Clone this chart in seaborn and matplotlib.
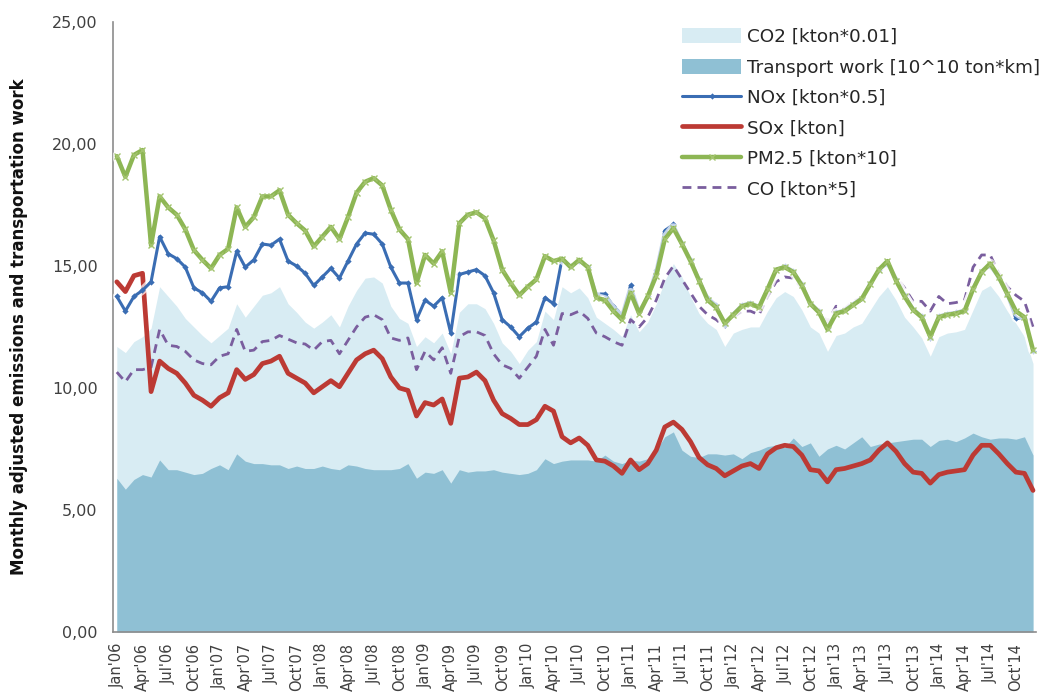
import numpy as np
import pandas as pd
import matplotlib
matplotlib.use("Agg")
import matplotlib.pyplot as plt
from matplotlib.patches import Patch
from matplotlib.lines import Line2D
import seaborn as sns

# Monthly series, Jan 2006 - Dec 2014
months = pd.date_range("2006-01-01", "2014-12-01", freq="MS")

co2 = [  # CO2 [kton*0.01]
    11.7, 11.45, 11.9, 12.1, 12.45, 14.15, 13.75, 13.35, 12.85, 12.5, 12.15, 11.85,
    12.15, 12.45, 13.45, 12.9, 13.35, 13.8, 13.9, 14.15, 13.45, 13.1, 12.7, 12.45,
    12.7, 13.0, 12.5, 13.35, 14.0, 14.5, 14.55, 14.3, 13.35, 12.85, 12.65, 11.7,
    12.1, 11.85, 12.25, 11.4, 13.1, 13.45, 13.45, 13.25, 12.65, 11.85, 11.5, 11.0,
    11.55, 11.9, 13.15, 12.8, 14.15, 13.9, 14.1, 13.7, 12.9, 12.65, 12.4, 12.1,
    13.0, 12.3, 12.7, 13.45, 14.4, 15.1, 14.55, 13.75, 13.05, 12.65, 12.4, 11.7,
    12.25, 12.4, 12.5, 12.5, 13.15, 13.7, 13.95, 13.75, 13.2, 12.5, 12.25, 11.5,
    12.15, 12.25, 12.5, 12.65, 13.2, 13.75, 14.15, 13.6, 12.9, 12.5, 12.05, 11.3,
    12.1, 12.25, 12.3, 12.4, 13.2, 14.0, 14.2, 13.75, 13.15, 12.65, 12.1, 11.0,
]

transport = [  # Transport work [10^10 ton*km]
    6.3, 5.85, 6.25, 6.45, 6.35, 7.05, 6.65, 6.65, 6.55, 6.45, 6.5, 6.7,
    6.85, 6.65, 7.3, 7.0, 6.9, 6.9, 6.85, 6.85, 6.7, 6.8, 6.7, 6.7,
    6.8, 6.7, 6.65, 6.85, 6.8, 6.7, 6.65, 6.65, 6.65, 6.7, 6.9, 6.3,
    6.55, 6.5, 6.65, 6.1, 6.65, 6.55, 6.6, 6.6, 6.65, 6.55, 6.5, 6.45,
    6.5, 6.65, 7.1, 6.9, 7.0, 7.05, 7.05, 7.05, 7.0, 7.25, 7.0, 6.9,
    7.05, 7.0, 7.1, 7.45, 8.0, 8.2, 7.45, 7.2, 7.15, 7.3, 7.3, 7.25,
    7.3, 7.1, 7.35, 7.45, 7.6, 7.65, 7.55, 7.95, 7.6, 7.75, 7.2, 7.5,
    7.65, 7.5, 7.75, 8.0, 7.6, 7.7, 7.75, 7.8, 7.85, 7.9, 7.9, 7.6,
    7.85, 7.9, 7.8, 7.95, 8.15, 8.0, 7.9, 7.95, 7.95, 7.9, 8.0, 7.25,
]

nox = [  # NOx [kton*0.5]
    13.75, 13.15, 13.75, 14.0, 14.35, 16.2, 15.5, 15.3, 14.95, 14.1, 13.9, 13.55,
    14.1, 14.15, 15.6, 14.95, 15.25, 15.9, 15.85, 16.1, 15.2, 15.0, 14.7, 14.2,
    14.55, 14.9, 14.5, 15.2, 15.9, 16.35, 16.3, 15.9, 14.95, 14.3, 14.3, 12.8,
    13.6, 13.35, 13.7, 12.25, 14.65, 14.75, 14.85, 14.6, 13.9, 12.8, 12.5, 12.1,
    12.45, 12.7, 13.7, 13.45, 15.3, 15.0, 15.2, 14.95, 13.85, 13.85, 13.35, 13.0,
    14.2, 13.15, 13.75, 14.85, 16.45, 16.7, 15.95, 15.25, 14.45, 13.7, 13.4, 12.6,
    13.05, 13.4, 13.5, 13.35, 14.1, 14.85, 15.0, 14.8, 14.25, 13.5, 13.15, 12.45,
    13.1, 13.2, 13.45, 13.7, 14.3, 14.85, 15.1, 14.45, 13.8, 13.25, 12.95, 12.05,
    12.95, 13.05, 13.1, 13.2, 14.1, 14.8, 15.0, 14.5, 13.8, 12.85, 12.85, 11.5,
]

sox = [  # SOx [kton]
    14.35, 13.95, 14.6, 14.7, 9.85, 11.1, 10.8, 10.6, 10.2, 9.7, 9.5, 9.25,
    9.6, 9.8, 10.75, 10.35, 10.55, 11.0, 11.1, 11.3, 10.6, 10.4, 10.2, 9.8,
    10.05, 10.3, 10.05, 10.6, 11.15, 11.4, 11.55, 11.2, 10.45, 10.0, 9.9, 8.85,
    9.4, 9.3, 9.55, 8.55, 10.4, 10.45, 10.65, 10.3, 9.5, 8.95, 8.75, 8.5,
    8.5, 8.7, 9.25, 9.05, 8.0, 7.75, 7.95, 7.65, 7.05, 7.0, 6.8, 6.5,
    7.05, 6.65, 6.9, 7.45, 8.4, 8.6, 8.3, 7.8, 7.15, 6.85, 6.7, 6.4,
    6.6, 6.8, 6.9, 6.7, 7.3, 7.55, 7.65, 7.6, 7.25, 6.65, 6.6, 6.15,
    6.65, 6.7, 6.8, 6.9, 7.05, 7.45, 7.75, 7.4, 6.9, 6.55, 6.5, 6.1,
    6.45, 6.55, 6.6, 6.65, 7.25, 7.65, 7.65, 7.3, 6.9, 6.55, 6.5, 5.8,
]

pm25 = [  # PM2.5 [kton*10]
    19.5, 18.65, 19.55, 19.75, 15.85, 17.85, 17.4, 17.1, 16.5, 15.65, 15.25, 14.9,
    15.45, 15.7, 17.4, 16.6, 17.0, 17.85, 17.85, 18.1, 17.1, 16.75, 16.45, 15.8,
    16.2, 16.6, 16.1, 17.0, 18.0, 18.45, 18.6, 18.3, 17.3, 16.5, 16.1, 14.3,
    15.45, 15.1, 15.6, 13.9, 16.75, 17.1, 17.2, 16.95, 16.05, 14.85, 14.3, 13.8,
    14.15, 14.45, 15.4, 15.2, 15.3, 14.95, 15.25, 14.95, 13.7, 13.6, 13.15, 12.8,
    13.9, 13.05, 13.75, 14.6, 16.1, 16.55, 15.9, 15.2, 14.4, 13.6, 13.3, 12.65,
    13.0, 13.35, 13.45, 13.3, 14.05, 14.85, 14.95, 14.75, 14.2, 13.45, 13.1, 12.4,
    13.05, 13.15, 13.4, 13.65, 14.25, 14.85, 15.2, 14.4, 13.75, 13.2, 12.9, 12.1,
    12.9, 13.0, 13.05, 13.15, 14.05, 14.75, 15.1, 14.55, 13.85, 13.15, 12.9, 11.55,
]

co = [  # CO [kton*5]
    10.65, 10.25, 10.75, 10.75, 10.85, 12.4, 11.75, 11.7, 11.5, 11.15, 11.0, 10.95,
    11.3, 11.4, 12.4, 11.5, 11.55, 11.9, 11.95, 12.15, 12.0, 11.85, 11.8, 11.55,
    11.9, 11.95, 11.4, 11.95, 12.5, 12.9, 13.0, 12.8, 12.05, 11.95, 12.05, 10.75,
    11.5, 11.15, 11.65, 10.6, 12.1, 12.3, 12.3, 12.15, 11.4, 10.95, 10.8, 10.4,
    10.85, 11.3, 12.4, 11.75, 13.05, 13.0, 13.15, 12.85, 12.25, 12.1, 11.9, 11.75,
    12.8, 12.5, 12.9, 13.6, 14.5, 15.0, 14.45, 13.9, 13.35, 13.0, 12.8, 12.5,
    12.9, 13.15, 13.15, 13.0, 13.75, 14.35, 14.55, 14.5, 14.1, 13.45, 13.2, 12.7,
    13.35, 13.25, 13.55, 13.7, 14.3, 14.85, 15.15, 14.55, 14.1, 13.55, 13.55, 13.15,
    13.75, 13.45, 13.5, 13.6, 14.95, 15.45, 15.45, 14.7, 14.15, 13.8, 13.55, 12.5,
]

tick_labels = [f"{m.strftime('%b')}'{m.strftime('%y')}" for m in months[::3]]

labels = {
    "co2": "CO2 [kton*0.01]",
    "transport": "Transport work [10^10 ton*km]",
    "nox": "NOx [kton*0.5]",
    "sox": "SOx [kton]",
    "pm25": "PM2.5 [kton*10]",
    "co": "CO [kton*5]",
}

df = pd.DataFrame({
    "idx": np.arange(len(months)),
    "co2": co2, "transport": transport, "nox": nox,
    "sox": sox, "pm25": pm25, "co": co,
})

sns.set_style("white")
plt.rcParams["font.family"] = ["DejaVu Sans"]

c_co2 = "#D8ECF3"
c_tr = "#8FC0D4"
c_nox = "#3A6DB3"
c_sox = "#BC3A34"
c_pm = "#8DB654"
c_co = "#7A5E9E"
dash = (0, (3.2, 2.2))

fig = plt.figure(figsize=(10.43, 6.99), dpi=100)
ax = fig.add_axes([0.1083, 0.0959, 0.885, 0.8727])

# areas drawn from zero, transport work in front of CO2
ax.fill_between(df["idx"], 0, df["co2"], color=c_co2, linewidth=0, zorder=1)
ax.fill_between(df["idx"], 0, df["transport"], color=c_tr, linewidth=0, zorder=2)

sns.lineplot(data=df, x="idx", y="co", ax=ax, color=c_co, linewidth=2.0,
             linestyle=dash, zorder=3)
sns.lineplot(data=df, x="idx", y="sox", ax=ax, color=c_sox, linewidth=3.4,
             zorder=4)

# soft white glow under NOx and PM2.5
sns.lineplot(data=df, x="idx", y="nox", ax=ax, color="white", linewidth=6,
             alpha=0.7, zorder=5)
sns.lineplot(data=df, x="idx", y="nox", ax=ax, color=c_nox, linewidth=2.2,
             marker="D", markersize=3.2, markeredgewidth=0, zorder=6)
sns.lineplot(data=df, x="idx", y="pm25", ax=ax, color="white", linewidth=7,
             alpha=0.7, zorder=7)
sns.lineplot(data=df, x="idx", y="pm25", ax=ax, color=c_pm, linewidth=3.2,
             marker="x", markersize=4.5, markeredgewidth=1.0,
             markeredgecolor="#A3C46E", zorder=8)

ax.set_xlim(-0.45, len(months) - 0.65)
ax.set_ylim(0, 25)
yt = np.arange(0, 25.01, 5)
ax.set_yticks(yt)
ax.set_yticklabels([f"{v:.2f}".replace(".", ",") for v in yt])
ax.set_xticks(np.arange(0, len(months), 3))
ax.set_xticklabels(tick_labels, rotation=90)
ax.set_xticks(np.arange(len(months)), minor=True)

ax.tick_params(axis="y", which="major", direction="out", length=5, width=1,
               color="#8C8C8C", labelsize=11.5, labelcolor="#404040", pad=6)
ax.tick_params(axis="x", which="both", direction="out", length=5, width=0.8,
               color="#8C8C8C", labelsize=10.5, labelcolor="#404040", pad=3)

for side in ("top", "right"):
    ax.spines[side].set_visible(False)
for side in ("left", "bottom"):
    ax.spines[side].set_color("#8C8C8C")
    ax.spines[side].set_linewidth(1.2)

ax.set_xlabel("")
ax.set_ylabel("Monthly adjusted emissions and transportation work",
              fontsize=12, fontweight="bold", color="#111111", labelpad=17)

handles = [
    Patch(facecolor=c_co2, edgecolor="none"),
    Patch(facecolor=c_tr, edgecolor="none"),
    Line2D([], [], color=c_nox, linewidth=2.2, marker="D", markersize=3.2,
           markeredgewidth=0),
    Line2D([], [], color=c_sox, linewidth=3.4),
    Line2D([], [], color=c_pm, linewidth=3.2, marker="x", markersize=4.5,
           markeredgecolor="#A3C46E"),
    Line2D([], [], color=c_co, linewidth=2.0, linestyle=dash),
]
leg = ax.legend(handles, [labels[k] for k in ["co2", "transport", "nox", "sox", "pm25", "co"]],
                loc="upper left", bbox_to_anchor=(0.617, 0.99), frameon=False,
                fontsize=13.2, handlelength=3.2, handleheight=0.9,
                handletextpad=0.3, labelspacing=0.68, borderpad=0,
                borderaxespad=0)
for t in leg.get_texts():
    t.set_color("#262626")

fig.savefig("out.png", dpi=100, facecolor="white")
